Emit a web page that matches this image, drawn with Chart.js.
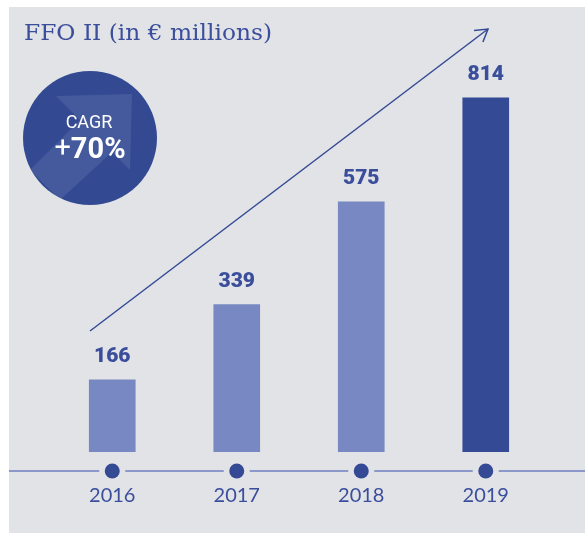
<!DOCTYPE html>
<html><head><meta charset="utf-8">
<script src="https://cdn.jsdelivr.net/npm/chart.js@4/dist/chart.umd.min.js"></script>
<style>html,body{margin:0;padding:0;background:#fff;}#wrap{width:585px;height:533px;position:relative;}</style>
</head><body><div id="wrap"><canvas id="c" width="585" height="533"></canvas></div>
<script>
const categories = ["2016", "2017", "2018", "2019"];
const ffoValues = [166, 339, 575, 814];
const barColors = ["#7788c2", "#7788c2", "#7788c2", "#344a94"];
const titleText = "FFO II (in € millions)";
const cagrLabel = "CAGR";
const cagrSign = "+";
const cagrValue = "70%";

const dark = "#344a94";
const textBlue = "#3a4e9c";

const deco = {
  id: "deco",
  beforeDraw(chart) {
    const ctx = chart.ctx;
    ctx.save();
    ctx.fillStyle = "#ffffff";
    ctx.fillRect(0, 0, chart.width, chart.height);
    ctx.fillStyle = "#e2e3e7";
    ctx.fillRect(9, 7, chart.width - 9, chart.height - 7);
    // title
    ctx.fillStyle = textBlue;
    ctx.font = "22px 'DejaVu Serif'";
    ctx.textBaseline = "alphabetic";
    ctx.textAlign = "left";
    const tw = ctx.measureText(titleText).width;
    const target = 248;
    ctx.save();
    ctx.translate(24, 40);
    ctx.scale(target / tw, 1);
    ctx.fillText(titleText, 0, 0);
    ctx.restore();
    // axis line with dots
    const xs = chart.scales.x;
    const yAxis = 471;
    ctx.strokeStyle = "#6f80c0";
    ctx.lineWidth = 1.5;
    ctx.beginPath();
    let prev = 9;
    categories.forEach((c, i) => {
      const px = xs.getPixelForValue(i);
      ctx.moveTo(prev, yAxis);
      ctx.lineTo(px - 13, yAxis);
      prev = px + 13;
    });
    ctx.moveTo(prev, yAxis);
    ctx.lineTo(chart.width, yAxis);
    ctx.stroke();
    categories.forEach((c, i) => {
      const px = xs.getPixelForValue(i);
      ctx.fillStyle = dark;
      ctx.beginPath();
      ctx.arc(px, yAxis, 7.5, 0, Math.PI * 2);
      ctx.fill();
      ctx.fillStyle = textBlue;
      ctx.font = "20px Lato";
      ctx.textAlign = "center";
      ctx.textBaseline = "middle";
      ctx.fillText(c, px, 496);
    });
    // CAGR circle
    const cx = 90, cy = 138, r = 67;
    ctx.beginPath();
    ctx.arc(cx, cy, r, 0, Math.PI * 2);
    ctx.fillStyle = "#334a93";
    ctx.fill();
    ctx.save();
    ctx.beginPath();
    ctx.arc(cx, cy, r, 0, Math.PI * 2);
    ctx.clip();
    ctx.fillStyle = "rgba(255,255,255,0.09)";
    ctx.beginPath();
    ctx.moveTo(56, 96);
    ctx.lineTo(132, 94);
    ctx.lineTo(130, 170);
    ctx.lineTo(112, 152);
    ctx.lineTo(60, 200);
    ctx.lineTo(30, 170);
    ctx.lineTo(80, 120);
    ctx.closePath();
    ctx.fill();
    ctx.restore();
    ctx.fillStyle = "#ffffff";
    ctx.textBaseline = "middle";
    ctx.textAlign = "center";
    ctx.font = "18px Roboto";
    ctx.fillText(cagrLabel, 89, 123);
    ctx.font = "29px Roboto";
    const sw = ctx.measureText(cagrSign).width;
    ctx.font = "bold 29px Roboto";
    const vw = ctx.measureText(cagrValue).width;
    const start = 90 - (sw + vw) / 2;
    ctx.textAlign = "left";
    ctx.font = "29px Roboto";
    ctx.fillText(cagrSign, start, 150);
    ctx.font = "bold 29px Roboto";
    ctx.fillText(cagrValue, start + sw, 151);
    ctx.restore();
  },
  afterDatasetsDraw(chart) {
    const ctx = chart.ctx;
    ctx.save();
    const meta = chart.getDatasetMeta(0);
    ctx.fillStyle = textBlue;
    ctx.font = "900 21px Roboto";
    ctx.textAlign = "center";
    ctx.textBaseline = "middle";
    meta.data.forEach((bar, i) => {
      ctx.fillText(String(ffoValues[i]), bar.x, bar.y - 23);
    });
    // growth arrow
    const x0 = 90, y0 = 331, x1 = 488, y1 = 29;
    ctx.strokeStyle = dark;
    ctx.lineWidth = 1.5;
    ctx.beginPath();
    ctx.moveTo(x0, y0);
    ctx.lineTo(x1, y1);
    ctx.stroke();
    const ang = Math.atan2(y1 - y0, x1 - x0);
    const L = 14;
    ctx.beginPath();
    ctx.moveTo(x1 + L * Math.cos(ang + Math.PI - 0.55), y1 + L * Math.sin(ang + Math.PI - 0.55));
    ctx.lineTo(x1, y1);
    ctx.lineTo(x1 + L * Math.cos(ang + Math.PI + 0.55), y1 + L * Math.sin(ang + Math.PI + 0.55));
    ctx.stroke();
    ctx.restore();
  }
};

new Chart(document.getElementById("c"), {
  type: "bar",
  data: {
    labels: categories,
    datasets: [{
      data: ffoValues,
      backgroundColor: barColors,
      barThickness: 46,
      borderWidth: 0
    }]
  },
  options: {
    responsive: false,
    animation: false,
    layout: { padding: { left: 50, right: 37, top: 17, bottom: 81 } },
    plugins: { legend: { display: false }, tooltip: { enabled: false }, title: { display: false } },
    scales: {
      x: { display: false, offset: true },
      y: { display: false, min: 0, max: 1000 }
    }
  },
  plugins: [deco]
});
</script>
</body></html>
